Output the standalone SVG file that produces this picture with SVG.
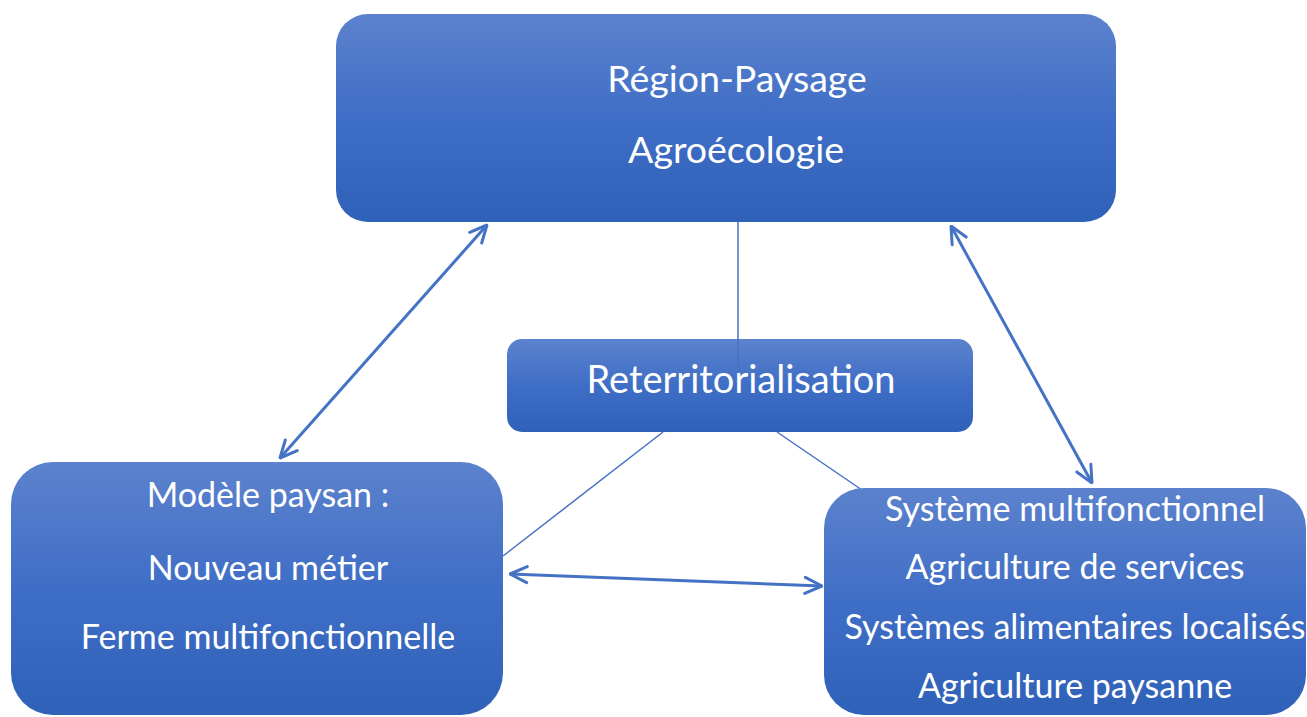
<svg xmlns="http://www.w3.org/2000/svg" width="1307" height="717" viewBox="0 0 1307 717">
<defs>
<linearGradient id="g" x1="0" y1="0" x2="0" y2="1">
<stop offset="0" stop-color="#5c82cd"/>
<stop offset="0.5" stop-color="#3f6ec6"/>
<stop offset="1" stop-color="#2f61b8"/>
</linearGradient>
<marker id="ah2" viewBox="0 0 20 20" refX="19" refY="10" markerWidth="20" markerHeight="20" markerUnits="userSpaceOnUse" orient="auto-start-reverse">
<path d="M2,2 L19,10 L2,18" fill="none" stroke="#4472c4" stroke-width="3" stroke-linecap="round" stroke-linejoin="round"/>
</marker>
</defs>
<style>
.box{fill:url(#g);}
.t{font-family:Lato,"Open Sans","Liberation Sans",sans-serif;fill:#fff;text-anchor:middle;}
.ln{stroke:#4472c4;stroke-width:1.5;fill:none;}
.ar{stroke:#4472c4;stroke-width:3;fill:none;marker-start:url(#ah2);marker-end:url(#ah2);}
</style>
<rect width="1307" height="717" fill="#fff"/>
<g id="connectors">
<line class="ln" x1="663" y1="432" x2="503" y2="556"/>
<line class="ln" x1="777" y1="432" x2="862" y2="490"/>
<line class="ar" x1="487" y1="225" x2="280" y2="458"/>
<line class="ar" x1="951" y1="226" x2="1092" y2="483"/>
<line class="ar" x1="510" y1="574" x2="822" y2="586"/>
</g>
<g id="node-region">
<rect class="box" x="336" y="14" width="780" height="208" rx="32"/>
<text class="t" x="737" y="92" font-size="37.5">Région-Paysage</text>
<text class="t" x="736" y="163" font-size="37.5">Agroécologie</text>
</g>
<g id="node-reterritorialisation">
<rect class="box" x="507" y="339" width="466" height="93" rx="15"/>
<text class="t" x="741" y="393" font-size="38">Reterritorialisation</text>
</g>
<line id="link-vertical" class="ln" x1="738" y1="222" x2="738" y2="369" stroke-width="2"/>
<g id="node-modele">
<rect class="box" x="11" y="462" width="492" height="253" rx="42"/>
<text class="t" x="268" y="507" font-size="34">Modèle paysan :</text>
<text class="t" x="268" y="580" font-size="34">Nouveau métier</text>
<text class="t" x="268" y="649" font-size="34">Ferme multifonctionnelle</text>
</g>
<g id="node-systeme">
<rect class="box" x="824" y="488" width="482" height="227" rx="40"/>
<text class="t" x="1075" y="521" font-size="34">Système multifonctionnel</text>
<text class="t" x="1075" y="579" font-size="34">Agriculture de services</text>
<text class="t" x="1075" y="639" font-size="34">Systèmes alimentaires localisés</text>
<text class="t" x="1075" y="698" font-size="34">Agriculture paysanne</text>
</g>
</svg>
